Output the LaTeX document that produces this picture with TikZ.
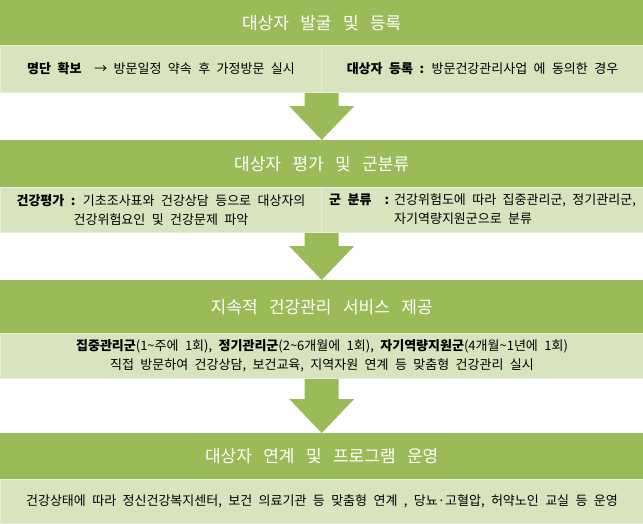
\documentclass[tikz,border=0pt]{standalone}
\usepackage{fontspec}
\setmainfont{Noto Sans CJK KR}[WordSpace=2.2]
\newfontfamily\headfont{Noto Sans CJK KR}[WordSpace=3]
\usetikzlibrary{calc}
\definecolor{hgreen}{HTML}{9BBB59}
\definecolor{bgreen}{HTML}{D7E4BD}
\definecolor{bedge}{HTML}{E6EDD6}
\tikzset{
  header/.style={fill=hgreen, text=white, font=\headfont\fontsize{17}{20}\selectfont,
    minimum width=643pt, inner sep=0pt, anchor=north west},
  bandbox/.style={fill=bgreen, draw=bedge, line width=1pt, text=black,
    font=\fontsize{13}{19}\selectfont, inner sep=0pt, anchor=north west, align=center},
  arrowfill/.style={fill=hgreen}
}
\newcommand\blockdown[2]{%
  \fill[arrowfill] let \p1=(#1), \p2=(#2) in
    (\x2-17pt,\y1) -- (\x2+17pt,\y1) -- (\x2+17pt,\y2+34pt) -- (\x2+32.5pt,\y2+34pt)
    -- (\x2,\y2) -- (\x2-32.5pt,\y2+34pt) -- (\x2-17pt,\y2+34pt) -- cycle;}
\begin{document}
\begin{tikzpicture}[x=1pt,y=-1pt]
\useasboundingbox (0,0) rectangle (643,523);
% stage 1
\node[header, minimum height=45pt] (h1) at (0,0) {대상자 발굴 및 등록};
\node[bandbox, minimum width=321pt, minimum height=47pt] (b1l) at (0,45)
  {\textbf{명단 확보}\ \ → 방문일정 약속 후 가정방문 실시};
\node[bandbox, minimum width=322pt, minimum height=47pt] (b1r) at (321,45)
  {\textbf{대상자 등록 :} 방문건강관리사업 에 동의한 경우};
% stage 2
\node[header, minimum height=47pt] (h2) at (0,140) {대상자 평가 및 군분류};
\node[bandbox, minimum width=321pt, minimum height=45pt] (b2l) at (0,187)
  {\textbf{건강평가 :} 기초조사표와 건강상담 등으로 대상자의\\건강위험요인 및 건강문제 파악};
\node[bandbox, minimum width=322pt, minimum height=45pt] (b2r) at (321,187)
  {\begin{tabular}{@{}l@{\hspace{5pt}}l@{}}\textbf{군 분류\ \ :} & 건강위험도에 따라 집중관리군, 정기관리군,\\ & 자기역량지원군으로 분류\end{tabular}};
% stage 3
\node[header, minimum height=53pt] (h3) at (0,280) {지속적 건강관리 서비스 제공};
\node[bandbox, minimum width=643pt, minimum height=45pt] (b3) at (0,333)
  {\textbf{집중관리군}(1\textasciitilde 주에 1회), \textbf{정기관리군}(2\textasciitilde 6개월에 1회), \textbf{자기역량지원군}(4개월\textasciitilde 1년에 1회)\\직접 방문하여 건강상담, 보건교육, 지역자원 연계 등 맞춤형 건강관리 실시};
% stage 4
\node[header, minimum height=46pt] (h4) at (0,433) {대상자 연계 및 프로그램 운영};
\node[bandbox, minimum width=643pt, minimum height=44pt] (b4) at (0,479)
  {건강상태에 따라 정신건강복지센터, 보건 의료기관 등 맞춤형 연계 , 당뇨·고혈압, 허약노인 교실 등 운영};
% arrows
\blockdown{b1l.south east}{h2.north}
\blockdown{b2l.south east}{h3.north}
\blockdown{b3.south}{h4.north}
\end{tikzpicture}
\end{document}
